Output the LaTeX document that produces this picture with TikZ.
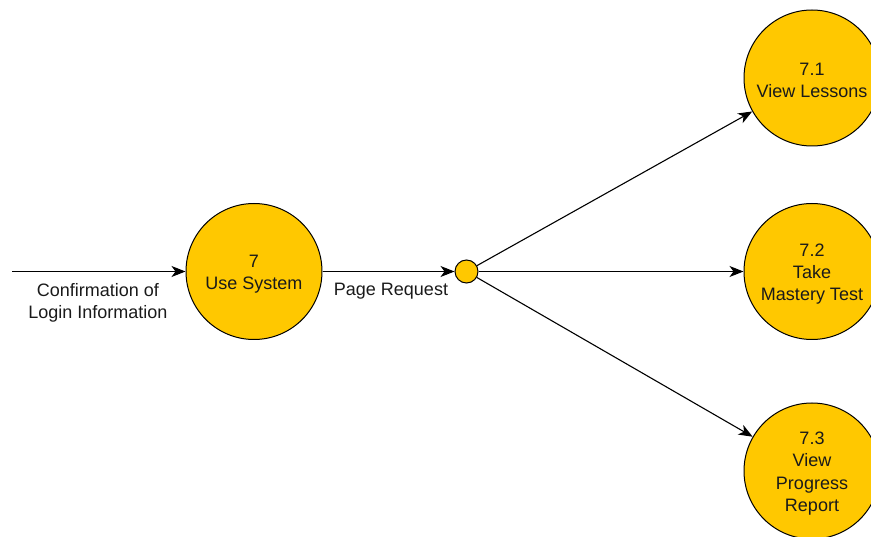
\documentclass[tikz,border=0pt]{standalone}
\usepackage{fontspec}
\setmainfont{Liberation Sans}
\usetikzlibrary{arrows.meta}
\definecolor{procfill}{HTML}{FFC800}
\definecolor{txt}{HTML}{1A1A1A}
\tikzset{
  proc/.style={circle, draw=black, line width=1pt, fill=procfill, minimum size=136pt, inner sep=0pt},
  ptext/.style={align=center, font=\fontsize{18}{22.3}\selectfont, text=txt, inner sep=0pt},
  junction/.style={circle, draw=black, line width=1pt, fill=procfill, minimum size=23pt, inner sep=0pt},
  flow/.style={line width=1.1pt, -{Stealth[length=14pt,width=11pt,inset=4pt]}},
  lbl/.style={align=center, font=\fontsize{18}{22}\selectfont, text=txt}
}
\begin{document}
\begin{tikzpicture}[x=1pt,y=-1pt]
\useasboundingbox (0,0) rectangle (871,537);
\node[proc] (p7) at (254,271.5) {};
\node[junction] (j) at (466.5,271.5) {};
\node[proc] (p71) at (812,78) {};
\node[proc] (p72) at (812,271.5) {};
\node[proc] (p73) at (812,471) {};
\node[ptext] (t7) at ([yshift=-2.5pt]p7.center) {7\\Use System};
\node[ptext] (t71) at ([yshift=-2.5pt]p71.center) {7.1\\View Lessons};
\node[ptext] (t72) at ([yshift=-2.5pt]p72.center) {7.2\\Take\\Mastery Test};
\node[ptext] (t73) at ([yshift=-2.5pt]p73.center) {7.3\\View\\Progress\\Report};
\coordinate (in) at (12,271.5);
\draw[flow] (in) -- (p7);
\draw[flow] (p7) -- (j);
\draw[flow] (j) -- (p71);
\draw[flow] (j) -- (p72);
\draw[flow] (j) -- (p73);
\node[lbl] (l1) at (98,303) {Confirmation of\\Login Information};
\node[lbl] (l2) at (391,291) {Page Request};
\end{tikzpicture}
\end{document}
